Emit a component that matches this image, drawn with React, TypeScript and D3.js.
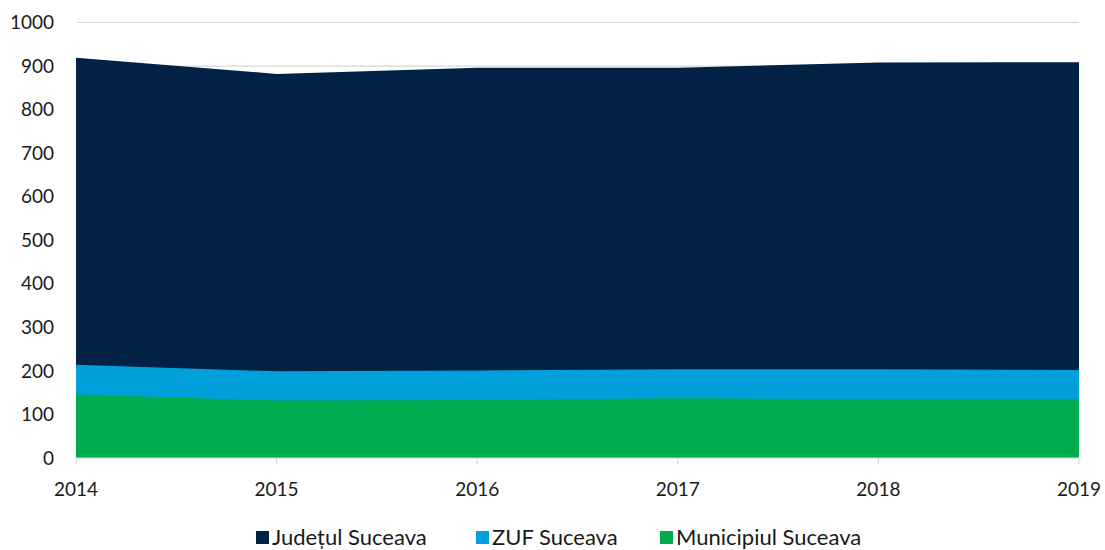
import React from "react";
import * as d3 from "d3";

const years = ["2014", "2015", "2016", "2017", "2018", "2019"];
const judetul = [919, 882, 896, 896, 908, 909];
const zuf = [214, 199, 201, 204, 204, 202];
const municipiul = [146, 132, 133, 137, 135, 135];
const yTicks = [0, 100, 200, 300, 400, 500, 600, 700, 800, 900, 1000];
const seriesNames = ["Județul Suceava", "ZUF Suceava", "Municipiul Suceava"];
const colors = ["#012245", "#00A0DA", "#00AB4F"];

export default function App() {
  const W = 1105, H = 550;
  const left = 76, right = 1079, top = 22.5, bottom = 458;
  const x = d3.scalePoint<string>().domain(years).range([left, right]);
  const y = d3.scaleLinear().domain([0, 1000]).range([bottom, top]);
  const area = d3.area<number>()
    .x((_, i) => x(years[i]) as number)
    .y0(y(0))
    .y1((d) => y(d));
  const series = [judetul, zuf, municipiul];
  const font = "Lato, 'Open Sans', sans-serif";
  const legendX = [256, 476, 660];
  return (
    <svg width={W} height={H} style={{ position: "absolute", left: 0, top: 0 }} fontFamily={font}>
      <rect width={W} height={H} fill="#fff" />
      {yTicks.map((t) => (
        <line key={t} x1={left} x2={right} y1={y(t)} y2={y(t)} stroke="#d9d9d9" strokeWidth={1.2} />
      ))}
      {series.map((s, i) => (
        <path key={i} d={area(s) as string} fill={colors[i]} />
      ))}
      <line x1={left} x2={right} y1={bottom} y2={bottom} stroke="#d9d9d9" strokeWidth={1.2} />
      {years.map((yr) => (
        <line key={yr} x1={x(yr)} x2={x(yr)} y1={bottom} y2={bottom + 6} stroke="#d9d9d9" strokeWidth={1.2} />
      ))}
      {yTicks.map((t) => (
        <text key={t} x={54} y={y(t)} dy="0.35em" textAnchor="end" fontSize={19} fill="#1a1a1a">{t}</text>
      ))}
      {years.map((yr) => (
        <text key={yr} x={x(yr)} y={489} dy="0.35em" textAnchor="middle" fontSize={19} fill="#1a1a1a">{yr}</text>
      ))}
      {seriesNames.map((n, i) => (
        <g key={n} transform={`translate(${legendX[i]},537)`}>
          <rect x={0} y={-6} width={13} height={13} fill={colors[i]} />
          <text x={16} y={0} dy="0.35em" fontSize={22} fill="#1a1a1a">{n}</text>
        </g>
      ))}
    </svg>
  );
}
